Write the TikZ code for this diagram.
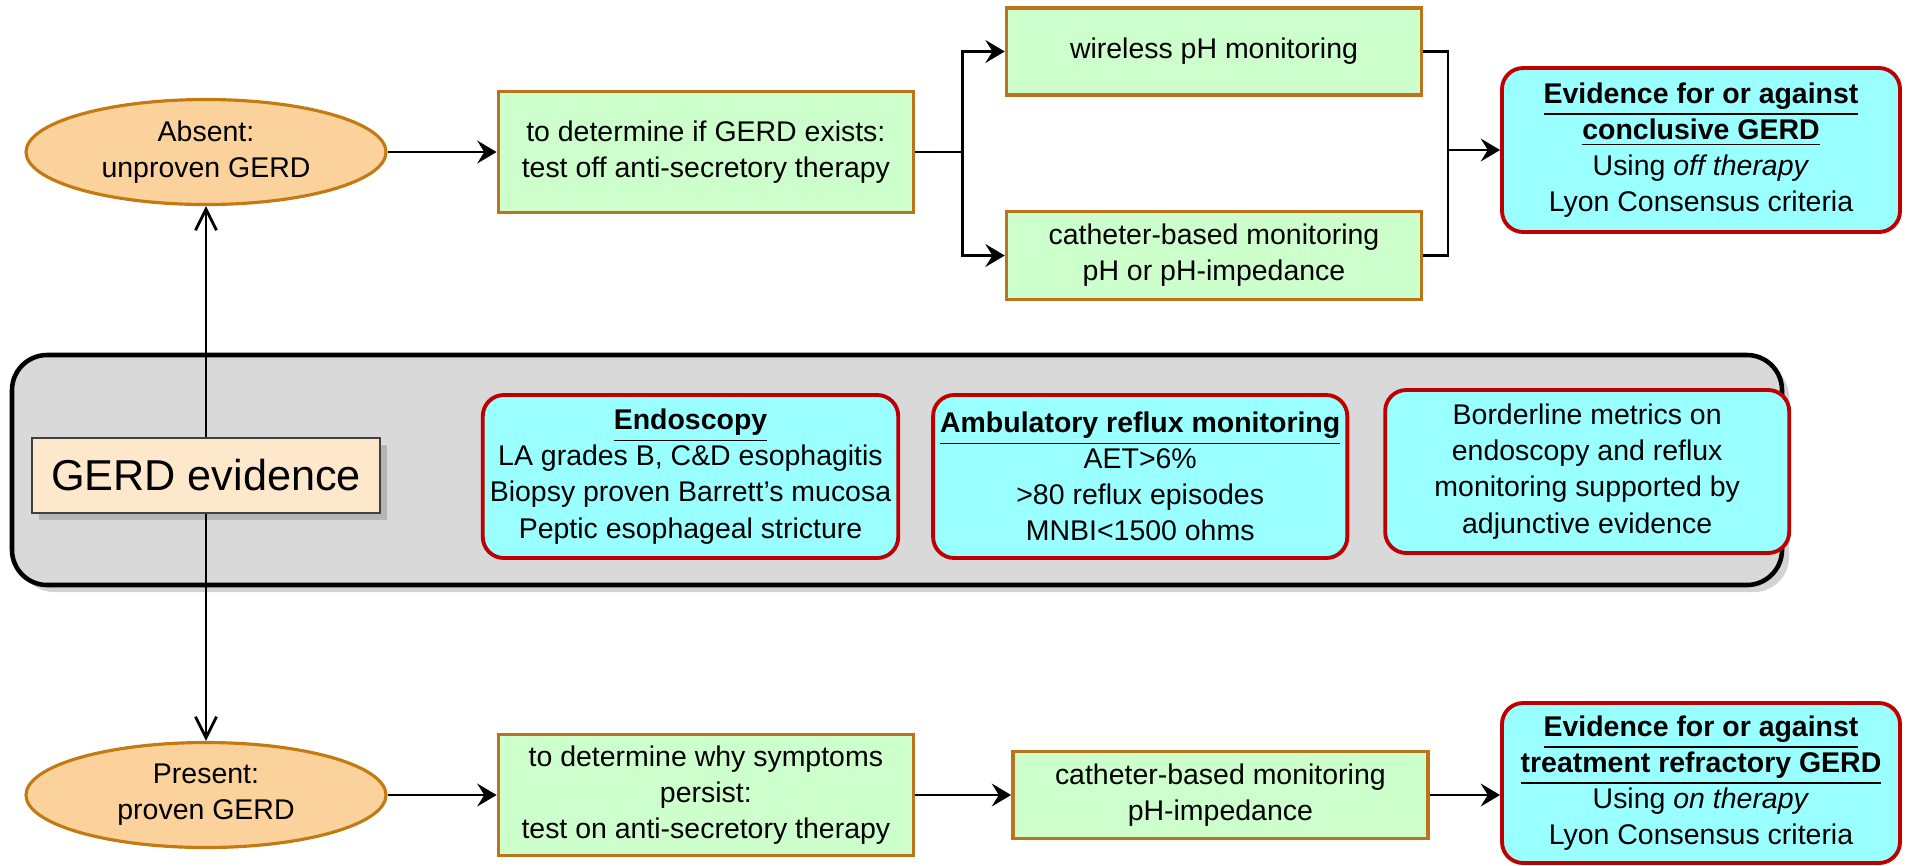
\documentclass[tikz,border=0pt]{standalone}
\usepackage{fontspec}
\setmainfont{Liberation Sans}
\usetikzlibrary{shapes.geometric, arrows.meta, positioning, shadows}
\definecolor{ovalfill}{HTML}{FBD29B}
\definecolor{ovalline}{HTML}{C47A12}
\definecolor{testfill}{HTML}{CCFFCC}
\definecolor{testline}{HTML}{BC741A}
\definecolor{evidfill}{HTML}{99FFFF}
\definecolor{evidline}{HTML}{C00000}
\definecolor{bandfill}{HTML}{D9D9D9}
\definecolor{gerdfill}{HTML}{FDE8CC}

\begin{document}
\begin{tikzpicture}[>={Stealth[length=5.5pt,width=6.5pt,inset=2pt]}, font=\fontsize{8.1}{10.3}\selectfont,
  oval/.style={draw=ovalline, line width=0.9pt, fill=ovalfill, ellipse, align=center, minimum width=3.6cm, minimum height=1.05cm, inner sep=0pt},
  testbox/.style={draw=testline, line width=1pt, fill=testfill, align=center, minimum width=4.15cm, inner sep=2pt},
  evidbox/.style={draw=evidline, line width=1.1pt, fill=evidfill, rounded corners=6pt, align=center, minimum width=4.04cm, minimum height=1.63cm, inner sep=2pt},
  band/.style={draw, line width=1.3pt, fill=bandfill, rounded corners=10pt, minimum width=17.7cm, minimum height=2.3cm, drop shadow={opacity=0.35, shadow xshift=2pt, shadow yshift=-2pt}},
  link/.style={line width=0.8pt}]
\useasboundingbox (0,0) rectangle (19.06,-8.65);
% middle band
\node[band] (band) at (8.97,-4.70) {};
\node[draw=black!75, fill=gerdfill, minimum width=3.48cm, minimum height=0.75cm, font=\fontsize{12.3}{14}\selectfont, drop shadow={opacity=0.4, shadow xshift=2pt, shadow yshift=-2pt}] (gerd) at (2.06,-4.755) {GERD evidence};
\node[evidbox] (endo) at (6.905,-4.765) {\underline{\textbf{Endoscopy}}\\LA grades B, C\&D esophagitis\\Biopsy proven Barrett’s mucosa\\Peptic esophageal stricture};
\node[evidbox, right=0.31cm of endo] (ambu) {\underline{\textbf{Ambulatory reflux monitoring}}\\AET>6\%\\>80 reflux episodes\\MNBI<1500 ohms};
\node[evidbox, right=0.34cm of ambu, yshift=0.05cm] (border) {Borderline metrics on\\endoscopy and reflux\\monitoring supported by\\adjunctive evidence};
% off therapy row
\node[oval] (absent) at (2.06,-1.52) {Absent:\\unproven GERD};
\node[testbox, minimum height=1.21cm, right=1.09cm of absent] (testoff) {to determine if GERD exists:\\test off anti-secretory therapy};
\node[testbox, minimum height=0.87cm] (wireless) at (12.14,-0.515) {wireless pH monitoring};
\node[testbox, minimum height=0.88cm, below=1.13cm of wireless] (cathoff) {catheter-based monitoring\\pH or pH-impedance};
\node[evidbox, minimum width=3.98cm, minimum height=1.64cm] (evidoff) at (17.01,-1.50) {\underline{\textbf{Evidence for or against}}\\\underline{\textbf{conclusive GERD}}\\Using \textit{off therapy}\\Lyon Consensus criteria};
% on therapy row
\node[oval] (present) at (2.06,-7.95) {Present:\\proven GERD};
\node[testbox, minimum height=1.21cm, right=1.09cm of present] (teston) {to determine why symptoms\\persist:\\test on anti-secretory therapy};
\node[testbox, minimum height=0.87cm, right=0.96cm of teston] (cathon) {catheter-based monitoring\\pH-impedance};
\node[evidbox, minimum width=3.98cm, minimum height=1.60cm] (evidon) at (17.01,-7.83) {\underline{\textbf{Evidence for or against}}\\\underline{\textbf{treatment refractory GERD}}\\Using \textit{on therapy}\\Lyon Consensus criteria};
% connectors
\draw[link, -{Straight Barb[length=6pt,width=6pt]}] (gerd) -- (absent);
\draw[link, -{Straight Barb[length=6pt,width=6pt]}] (gerd) -- (present);
\draw[link, ->] (absent) -- (testoff);
\draw[link] (testoff.east) -- ++(0.47,0) coordinate (split);
\draw[link, ->] (split) |- (wireless.west);
\draw[link, ->] (split) |- (cathoff.west);
\path (evidoff.west) ++(-0.52,0) coordinate (merge);
\draw[link] (wireless.east) -| (merge) |- (cathoff.east);
\draw[link, ->] (merge) -- (evidoff);
\draw[link, ->] (present) -- (teston);
\draw[link, ->] (teston) -- (cathon);
\draw[link, ->] (cathon.east) -- (cathon.east -| evidon.west);
\end{tikzpicture}
\end{document}
